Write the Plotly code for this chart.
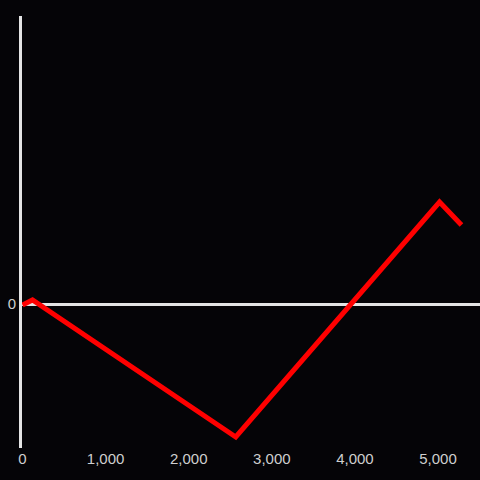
import plotly.graph_objects as go

x_vals = [0, 120, 2566, 5018, 5282]
y_vals = [-1, 4, -133, 102, 79]
y_tick_vals = [0]
y_tick_text = ["0"]

fig = go.Figure()
fig.add_trace(go.Scatter(
    x=x_vals, y=y_vals, mode="lines",
    line=dict(color="#ff0000", width=5),
    hoverinfo="skip", showlegend=False,
))

fig.update_layout(
    width=480, height=480,
    paper_bgcolor="#050407", plot_bgcolor="#050407",
    margin=dict(l=22, r=0, t=16, b=32),
    font=dict(family="Liberation Sans, Arial, sans-serif", size=15, color="#cfcfcf"),
    xaxis=dict(
        range=[-6, 5505], dtick=1000, tick0=0, tickformat=",",
        showgrid=False, zeroline=False, showline=False,
        ticks="", ticklen=0,
    ),
    yaxis=dict(
        range=[-144, 288], tickvals=y_tick_vals, ticktext=y_tick_text,
        showgrid=False, zeroline=True, zerolinecolor="#e4e4e4", zerolinewidth=3,
        showline=True, linecolor="#e4e4e4", linewidth=3,
        ticks="", ticklen=0,
    ),
)

fig.write_html(
    "out.html",
    config={"displayModeBar": False},
    post_script="document.body.style.margin='0';document.body.style.background='#050407';",
)
